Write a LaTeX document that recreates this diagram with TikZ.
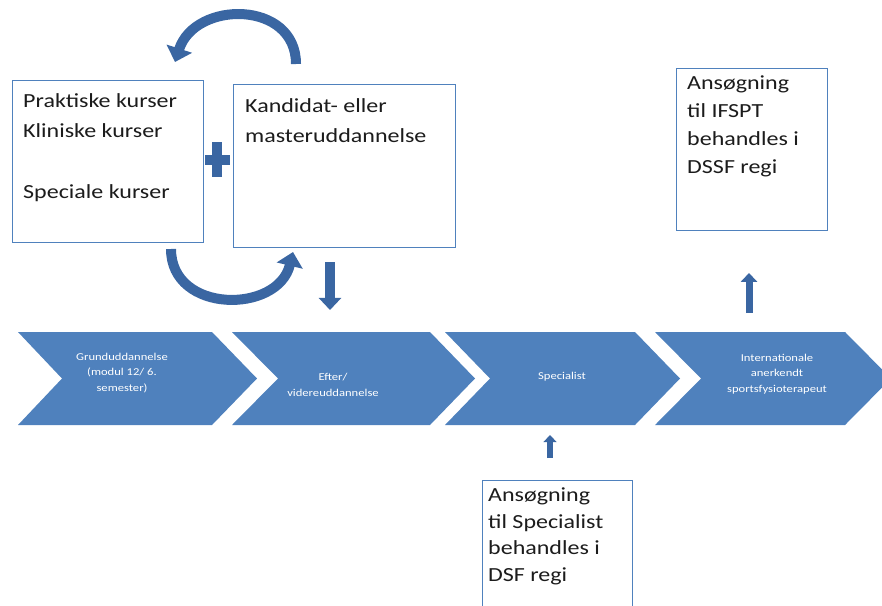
\documentclass[tikz,border=0pt]{standalone}
\usepackage{fontspec}
\setmainfont{Carlito}[FakeStretch=1.2]
\usetikzlibrary{arrows.meta}
\definecolor{obl}{RGB}{79,129,189}
\definecolor{arr}{RGB}{58,102,162}
\definecolor{txt}{RGB}{28,28,28}
\begin{document}
\begin{tikzpicture}[x=1pt,y=-1pt,
  box/.style={draw=obl, line width=1.4pt, fill=white, inner sep=0pt, anchor=north west},
  boxtext/.style={text=txt, align=left, inner sep=0pt, anchor=north west, font=\fontsize{20}{30}\selectfont},
  apptext/.style={text=txt, align=left, inner sep=0pt, anchor=north west, font=\fontsize{20}{26.5}\selectfont},
  chevtext/.style={text=white, align=center, inner sep=0pt, font=\fontsize{10.5}{15.5}\selectfont},
  chev/.style={fill=obl},
  curvearrow/.style={draw=arr, line width=10pt, -{Triangle[width=26pt,length=14pt]}},
  straightarrow/.style={draw=arr, -{Triangle[width=#1,length=0.55*#1]}},
]
\useasboundingbox (0,0) rectangle (882,605);

% chevrons
\fill[chev] (18,332) -- (212,332) -- (257,378.5) -- (212,425) -- (18,425) -- (62,378.5) -- cycle;
\fill[chev] (232,332) -- (430,332) -- (475,378.5) -- (430,425) -- (232,425) -- (278,378.5) -- cycle;
\fill[chev] (445,332) -- (635,332) -- (680,378.5) -- (635,425) -- (445,425) -- (490,378.5) -- cycle;
\fill[chev] (655,332) -- (845,332) -- (891,378.5) -- (845,425) -- (655,425) -- (701,378.5) -- cycle;
\node[chevtext] (c1) at (122,373) {Grunduddannelse\\(modul 12/ 6.\\semester)};
\node[chevtext] (c2) at (333,385) {Efter/\\videreuddannelse};
\node[chevtext] (c3) at (562,377) {Specialist};
\node[chevtext] (c4) at (777,374) {Internationale\\anerkendt\\sportsfysioterapeut};

% boxes
\node[box, minimum width=191pt, minimum height=162pt] (b1) at (12,80) {};
\node[box, minimum width=222pt, minimum height=163pt] (b2) at (233,84) {};
\node[box, minimum width=150pt, minimum height=150pt] (b3) at (482,480) {};
\node[box, minimum width=151pt, minimum height=162pt] (b4) at (676,68) {};

\node[boxtext] (t1) at (23,93) {Praktiske kurser\\Kliniske kurser\\[31pt]Speciale kurser};
\node[boxtext] (t2) at (245,98) {Kandidat- eller\\masteruddannelse};
\node[apptext] (t3) at (488,488) {Ansøgning\\til Specialist\\behandles i\\DSF regi};
\node[apptext, font=\fontsize{20}{27.7}\selectfont] (t4) at (687,76) {Ansøgning\\til IFSPT\\behandles i\\DSSF regi};

% plus sign
\node[inner sep=0pt] (plus) at (217,160) {};
\fill[arr] (212,142) rectangle (222,177);
\fill[arr] (205,155) rectangle (230,165);

% curved arrows
\coordinate (ta) at (296,64);
\coordinate (tb) at (175,62);
\draw[curvearrow] (ta) .. controls (296,0) and (195,0) .. (tb);
\coordinate (ba) at (171,249);
\coordinate (bb) at (293,252);
\draw[curvearrow] (ba) .. controls (171,314) and (278,314) .. (bb);

% straight arrows
\coordinate (d1) at (330,262);
\coordinate (d2) at (330,310);
\draw[straightarrow=22pt, line width=10pt] (d1) -- (d2);
\coordinate (u1) at (749,313);
\coordinate (u2) at (749,273);
\draw[straightarrow=16pt, line width=7pt] (u1) -- (u2);
\coordinate (m1) at (550,458);
\coordinate (m2) at (550,435);
\draw[straightarrow=13pt, line width=6pt] (m1) -- (m2);
\end{tikzpicture}
\end{document}
